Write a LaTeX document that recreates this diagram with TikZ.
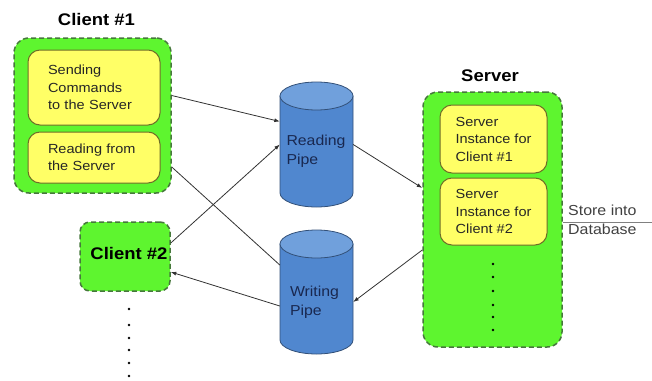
\documentclass[tikz,border=0pt]{standalone}
\usepackage{fontspec}
\setmainfont{Liberation Sans}[FakeStretch=1.1]
\usetikzlibrary{arrows.meta}
\definecolor{grn}{RGB}{94,245,47}
\definecolor{grnb}{RGB}{70,120,60}
\definecolor{ylw}{RGB}{255,255,102}
\definecolor{ylwb}{RGB}{110,110,40}
\definecolor{pipebody}{RGB}{80,135,207}
\definecolor{pipetop}{RGB}{112,160,220}
\definecolor{pipeb}{RGB}{50,80,120}
\definecolor{pipetxt}{RGB}{25,40,80}
\definecolor{arr}{RGB}{50,50,50}
\begin{document}
\begin{tikzpicture}[x=1pt,y=-1pt,
 grnbox/.style={draw=grnb, fill=grn, line width=1.5pt, dash pattern=on 5pt off 3pt, rounded corners=15pt, inner sep=0pt},
 ylwbox/.style={draw=ylwb, fill=ylw, line width=1pt, rounded corners=12pt, inner sep=0pt, align=left, font=\fontsize{13.2}{17.5}\selectfont, text=black!85},
 title/.style={font=\fontsize{16.8}{20}\selectfont\bfseries, inner sep=0pt},
 pipe/.style={inner sep=0pt, minimum width=73pt, minimum height=125pt},
 pipebodystyle/.style={fill=pipebody, draw=pipeb, line width=0.8pt},
 pipetopstyle/.style={fill=pipetop, draw=pipeb, line width=0.8pt},
 pipetext/.style={align=left, inner sep=0pt, font=\fontsize{14.4}{19}\selectfont, text=pipetxt},
 conn/.style={draw=arr, line width=0.8pt},
 arrow/.style={conn, -{Latex[length=5.5pt,width=4pt]}},
 dbline/.style={draw=gray, line width=1pt},
 dbtext/.style={anchor=west, align=left, inner sep=0pt, font=\fontsize{14.5}{19}\selectfont, text=black!75}
]
\useasboundingbox (0,0) rectangle (652,380);

% Client #1
\node[title] (t1) at (96.5,19) {Client \#1};
\node[grnbox, minimum width=157pt, minimum height=155pt] (c1) at (92.5,115.5) {};
\node[ylwbox, minimum width=132pt, minimum height=75pt, text width=92pt] (send) at (94,87.5) {Sending\\Commands\\to the Server};
\node[ylwbox, minimum width=132pt, minimum height=51pt, text width=92pt] (read) at (94,157.5) {Reading from\\the Server};

% Client #2
\node[grnbox, minimum width=90pt, minimum height=69pt, rounded corners=10pt] (c2) at (125,256.5) {};
\node[title] (t2) at (129,253.5) {Client \#2};

% Server
\node[title] (ts) at (490,75.5) {Server};
\node[grnbox, minimum width=139pt, minimum height=255pt] (s) at (492.5,219.5) {};
\node[ylwbox, minimum width=107pt, minimum height=68pt] (si1) at (493.5,139) {Server\\Instance for\\Client \#1};
\node[ylwbox, minimum width=107pt, minimum height=67pt] (si2) at (493.5,211.5) {Server\\Instance for\\Client \#2};

% Reading pipe
\path[pipebodystyle] (280,96) -- (280,193) arc[start angle=180,end angle=360,x radius=36.5pt,y radius=14pt] -- (353,96) -- cycle;
\path[pipetopstyle] (316.5,96) ellipse[x radius=36.5pt, y radius=14pt];
\node[pipe] (rp) at (316.5,144.5) {};
\node[pipetext] (rpt) at (316,151.5) {Reading\\Pipe};

% Writing pipe
\path[pipebodystyle] (280,244) -- (280,340) arc[start angle=180,end angle=360,x radius=36.5pt,y radius=14pt] -- (353,244) -- cycle;
\path[pipetopstyle] (316.5,244) ellipse[x radius=36.5pt, y radius=14pt];
\node[pipe] (wp) at (316.5,292) {};
\node[pipetext] (wpt) at (314.5,302.5) {Writing\\Pipe};

% Connectors
\draw[arrow] ([yshift=20pt]c1.east) -- ([yshift=23pt]rp.west);
\draw[arrow] ([yshift=13.5pt]c2.east) -- (rp.west);
\draw[arrow] (rp.east) -- ([yshift=31.5pt]s.west);
\draw[arrow] ([yshift=-30.5pt]s.west) -- ([yshift=-10pt]wp.east);
\draw[arrow] ([yshift=-14pt]wp.west) -- ([yshift=-15.5pt]c2.east);
\draw[conn] ([yshift=-51.5pt]c1.east) -- ([yshift=27pt]wp.west);

% Store into database
\coordinate (dbend) at (652,222);
\draw[dbline] ([yshift=-2.5pt]s.east) -- (dbend);
\node[dbtext] (db) at (568,219.5) {Store into\\Database};

% Dots
\foreach \yy in {264,277,291,305,317,330} \fill (493,\yy) circle[radius=1.4pt];
\foreach \yy in {309,325,338,350,363,376} \fill (129,\yy) circle[radius=1.4pt];
\end{tikzpicture}
\end{document}
